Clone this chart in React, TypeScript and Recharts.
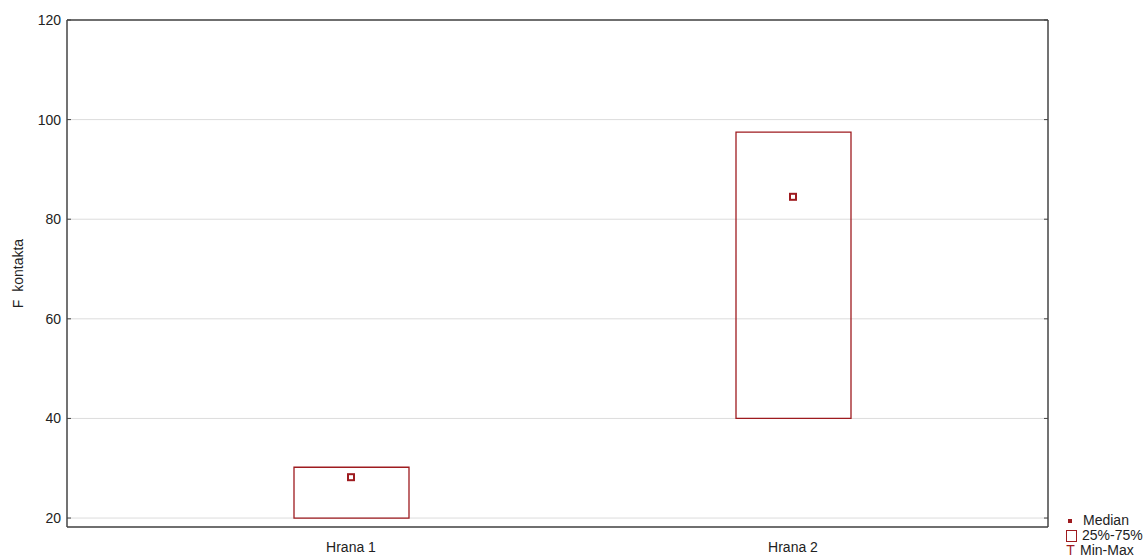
import { ComposedChart, Bar, Scatter, XAxis, YAxis, CartesianGrid } from "recharts";

const categories = ["Hrana 1", "Hrana 2"];
const q1 = [20, 40];
const q3 = [30.2, 97.5];
const median = [28.2, 84.5];
const yTicks = [20, 40, 60, 80, 100, 120];

const data = categories.map((name, i) => ({ name, box: [q1[i], q3[i]], median: median[i] }));

const RED = "#9e1b1f";
const FRAME = "#444";
const FONT = "'Liberation Sans', Arial, sans-serif";

const MedianMark = (props: any) => {
  const { cx, cy } = props;
  return <rect x={cx - 3} y={cy - 3} width={6} height={6} fill="#fff" stroke={RED} strokeWidth={2} />;
};

const LeftTick = (props: any) => {
  const { x, y, payload } = props;
  return (
    <g>
      <text x={x} y={y} dy={5} textAnchor="end" fontSize={14} fill="#222" fontFamily={FONT}>
        {payload.value}
      </text>
      <line x1={67} x2={71} y1={y} y2={y} stroke={FRAME} />
    </g>
  );
};

const RightTick = (props: any) => {
  const { y } = props;
  return <line x1={1044} x2={1048} y1={y} y2={y} stroke={FRAME} />;
};

const LegendBox = () => (
  <div style={{ position: "absolute", left: 1066, top: 513, fontFamily: FONT, fontSize: 14, color: "#222", lineHeight: "15px" }}>
    <div style={{ display: "flex", alignItems: "center" }}>
      <span style={{ display: "inline-block", width: 4, height: 4, background: RED, margin: "0 11px 0 2px" }} />
      Median
    </div>
    <div style={{ display: "flex", alignItems: "center" }}>
      <span style={{ display: "inline-block", width: 9, height: 10, border: `1px solid ${RED}`, margin: "0 5px 0 0" }} />
      25%-75%
    </div>
    <div style={{ display: "flex", alignItems: "center" }}>
      <span style={{ display: "inline-block", width: 11, margin: "0 4px 0 -1px", color: RED, textAlign: "center" }}>T</span>
      Min-Max
    </div>
  </div>
);

export default function App() {
  return (
    <div style={{ position: "absolute", left: 0, top: 0, width: 1145, height: 557, background: "#fff", overflow: "hidden" }}>
      <ComposedChart width={1145} height={557} data={data} margin={{ top: 19, right: 96, bottom: 0, left: 0 }}>
        <CartesianGrid vertical={false} stroke="#dcdcdc" />
        <XAxis
          dataKey="name"
          padding={{ left: 63, right: 34 }}
          height={30}
          tickLine={false}
          tickMargin={9}
          axisLine={{ stroke: FRAME, strokeWidth: 1.5 }}
          tick={{ fontSize: 14, fill: "#222", fontFamily: FONT }}
        />
        <XAxis
          xAxisId="top"
          orientation="top"
          dataKey="name"
          padding={{ left: 63, right: 34 }}
          height={1}
          tick={false}
          tickLine={false}
          axisLine={{ stroke: FRAME, strokeWidth: 1.5 }}
        />
        <YAxis
          domain={[18.2, 120]}
          ticks={yTicks}
          width={67}
          tickLine={false}
          tickSize={0}
          tickMargin={6}
          allowDataOverflow
          axisLine={{ stroke: FRAME, strokeWidth: 1.5 }}
          tick={<LeftTick />}
          label={{ value: "F\u00a0\u00a0kontakta", angle: -90, position: "insideLeft", offset: 18, style: { fontSize: 14, fill: "#222", fontFamily: FONT, textAnchor: "middle" } }}
        />
        <YAxis
          yAxisId="right"
          orientation="right"
          domain={[18.2, 120]}
          ticks={yTicks}
          width={1}
          tickLine={false}
          allowDataOverflow
          axisLine={{ stroke: FRAME, strokeWidth: 1.5 }}
          tick={<RightTick />}
        />
        <Bar dataKey="box" barSize={115} fill="#fff" fillOpacity={0} stroke={RED} strokeWidth={1.3} isAnimationActive={false} />
        <Scatter xAxisId="top" yAxisId="right" dataKey="median" shape={<MedianMark />} isAnimationActive={false} />
      </ComposedChart>
      <LegendBox />
    </div>
  );
}
